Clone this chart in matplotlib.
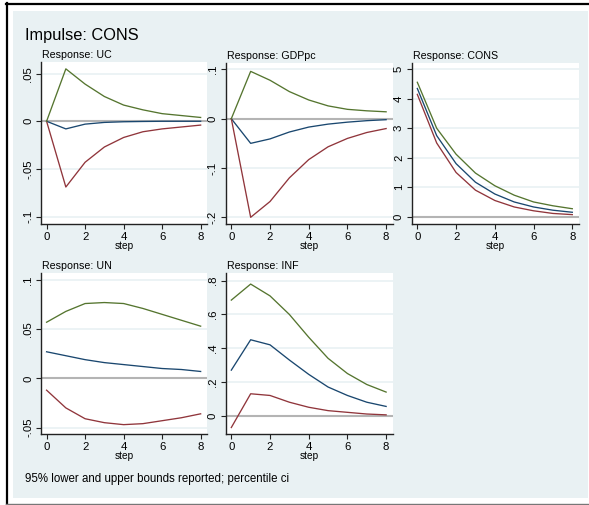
import matplotlib
matplotlib.use("Agg")
import matplotlib.pyplot as plt
from matplotlib.lines import Line2D
from matplotlib.patches import Rectangle

plt.rcParams['font.family'] = ['Liberation Sans', 'DejaVu Sans']

# ---- data: impulse CONS, steps 0..8 (irf, lower and upper 95% bounds) ----
steps = [0, 1, 2, 3, 4, 5, 6, 7, 8]

uc_irf = [0, -0.008, -0.003, -0.0012, -0.0005, -0.0002, 0.0, 0.0, 0.0]
uc_lo = [0, -0.069, -0.043, -0.027, -0.017, -0.011, -0.008, -0.006, -0.004]
uc_hi = [0, 0.055, 0.039, 0.026, 0.017, 0.012, 0.008, 0.006, 0.004]

gdp_irf = [0, -0.050, -0.041, -0.027, -0.017, -0.011, -0.007, -0.004, -0.002]
gdp_lo = [0, -0.200, -0.168, -0.120, -0.083, -0.057, -0.040, -0.028, -0.020]
gdp_hi = [0, 0.096, 0.078, 0.055, 0.038, 0.026, 0.019, 0.016, 0.014]

cons_irf = [4.35, 2.75, 1.80, 1.17, 0.77, 0.50, 0.33, 0.22, 0.15]
cons_lo = [4.15, 2.50, 1.50, 0.90, 0.55, 0.33, 0.20, 0.11, 0.07]
cons_hi = [4.56, 3.00, 2.12, 1.48, 1.05, 0.73, 0.50, 0.37, 0.27]

un_irf = [0.027, 0.023, 0.019, 0.016, 0.014, 0.012, 0.010, 0.009, 0.007]
un_lo = [-0.012, -0.030, -0.041, -0.045, -0.047, -0.046, -0.043, -0.040, -0.036]
un_hi = [0.057, 0.068, 0.076, 0.077, 0.076, 0.071, 0.065, 0.059, 0.053]

inf_irf = [0.27, 0.45, 0.42, 0.33, 0.245, 0.17, 0.12, 0.08, 0.055]
inf_lo = [-0.07, 0.13, 0.12, 0.08, 0.05, 0.03, 0.02, 0.01, 0.005]
inf_hi = [0.685, 0.78, 0.71, 0.60, 0.465, 0.34, 0.25, 0.185, 0.14]

x_ticks = [0, 2, 4, 6, 8]

W, H = 589, 505
NAVY, MAROON, GREEN = '#1a476f', '#90353b', '#55752f'
BG = '#e9f1f3'

fig = plt.figure(figsize=(W / 100, H / 100), dpi=100)
fig.patch.set_facecolor('white')

def fx(px):
    return px / W

def fy(py):
    return 1 - py / H

# outer frame and graph region
fig.add_artist(Rectangle((fx(13.3), fy(498)), fx(588) - fx(13.3), fy(11) - fy(498),
                         transform=fig.transFigure, facecolor=BG, edgecolor='none', zorder=0))
fig.add_artist(Line2D([fx(6), fx(589)], [fy(3.7), fy(3.7)], transform=fig.transFigure,
                      color='black', lw=1.6))
fig.add_artist(Line2D([fx(6.7), fx(6.7)], [fy(3), fy(503.5)], transform=fig.transFigure,
                      color='black', lw=1.6))
fig.add_artist(Line2D([fx(6), fx(589)], [fy(503.5), fy(503.5)], transform=fig.transFigure,
                      color='#777777', lw=1.0))

panels = [
    # title, irf, lo, hi, box (left, top, right, bottom px), ylim, yticks, ylabels
    ('Response: UC', uc_irf, uc_lo, uc_hi, (41, 62, 207, 224), (-0.1078, 0.0622),
     [-0.1, -0.05, 0, 0.05], ['-.1', '-.05', '0', '.05']),
    ('Response: GDPpc', gdp_irf, gdp_lo, gdp_hi, (225.7, 62.7, 392.5, 224), (-0.2136, 0.1136),
     [-0.2, -0.1, 0, 0.1], ['-.2', '-.1', '0', '.1']),
    ('Response: CONS', cons_irf, cons_lo, cons_hi, (411.7, 63, 578.7, 224), (-0.248, 5.214),
     [0, 1, 2, 3, 4, 5], ['0', '1', '2', '3', '4', '5']),
    ('Response: UN', un_irf, un_lo, un_hi, (41, 273, 207, 434), (-0.0565, 0.107),
     [-0.05, 0, 0.05, 0.1], ['-.05', '0', '.05', '.1']),
    ('Response: INF', inf_irf, inf_lo, inf_hi, (225.7, 273, 392.5, 434), (-0.1084, 0.8456),
     [0, 0.2, 0.4, 0.6, 0.8], ['0', '.2', '.4', '.6', '.8']),
]

for title, irf, lo, hi, box, ylim, yt, yl in panels:
    l, t, r, b = box
    ax = fig.add_axes([fx(l), fy(b), fx(r) - fx(l), fy(t) - fy(b)])
    ax.set_facecolor('white')
    ax.set_xlim(-0.29, 8.33)
    ax.set_ylim(*ylim)
    for v in yt:
        ax.axhline(v, color=BG, lw=1.2, zorder=1)
    ax.axhline(0, color='#b4b4b4', lw=1.5, zorder=2)
    ax.plot(steps, irf, color=NAVY, lw=0.95, zorder=3)
    ax.plot(steps, lo, color=MAROON, lw=0.95, zorder=3)
    ax.plot(steps, hi, color=GREEN, lw=0.95, zorder=3)
    for s in ('top', 'right'):
        ax.spines[s].set_visible(False)
    for s in ('left', 'bottom'):
        ax.spines[s].set_color('#222222')
        ax.spines[s].set_linewidth(1.0)
    ax.set_xticks(x_ticks)
    ax.set_xticklabels([str(v) for v in x_ticks])
    ax.set_yticks(yt)
    ax.set_yticklabels(yl, rotation=90, va='center')
    ax.tick_params(axis='both', length=3.6, width=0.8, color='#222222',
                   labelsize=8.2, pad=2.0)
    ax.set_xlabel('step', fontsize=7.3, labelpad=-0.5)
    fig.text(fx(l + 1.5), fy(t - 4), title, fontsize=7.7, ha='left', va='baseline')

fig.text(fx(25), fy(40), 'Impulse: CONS', fontsize=11.8, ha='left', va='baseline')
fig.text(fx(25), fy(482), '95% lower and upper bounds reported; percentile ci',
         fontsize=8.3, ha='left', va='baseline')

fig.savefig('out.png', dpi=100, facecolor='white')
